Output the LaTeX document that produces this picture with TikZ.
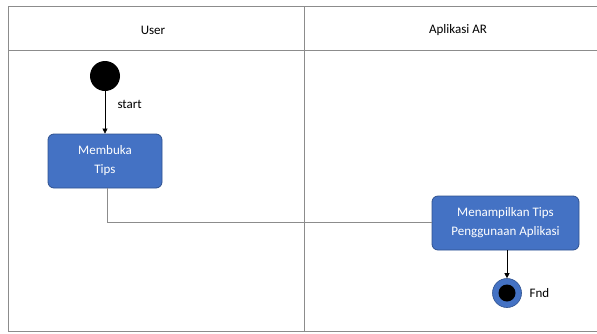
\documentclass[tikz,border=0pt]{standalone}
\usepackage{fontspec}
\setmainfont{Carlito}
\usetikzlibrary{arrows.meta}
\definecolor{boxfill}{HTML}{4472C4}
\definecolor{boxline}{HTML}{2F528F}
\definecolor{frame}{HTML}{8C8C8C}
\tikzset{
  lane/.style={draw=frame, line width=1pt},
  actbox/.style={draw=boxline, fill=boxfill, rounded corners=6pt, line width=0.8pt, text=white, align=center, font=\fontsize{13}{19}\selectfont, inner sep=0pt},
  flow/.style={draw=black, line width=0.6pt, -{Triangle[length=5pt,width=5pt]}},
  plain/.style={draw=frame, line width=0.8pt},
  lbl/.style={font=\fontsize{13}{15}\selectfont, text=black}
}
\begin{document}
\begin{tikzpicture}[x=1pt,y=-1pt]
\useasboundingbox (0,0) rectangle (597,333);
% swimlane frame
\draw[lane] (600,6) -- (8,6) -- (8,331) -- (600,331);
\draw[lane] (8,50) -- (600,50);
\draw[lane] (304,6) -- (304,331);
\node[lbl] (hUser) at (153,30) {User};
\node[lbl] (hApp) at (458,30) {Aplikasi AR};
% start
\node[circle, fill=black, minimum size=30pt, inner sep=0pt] (start) at (105,76) {};
\node[lbl, anchor=west] (startlbl) at (114,104) {start};
% activities
\node[actbox, minimum width=114pt, minimum height=54pt] (buka) at (105,161) {Membuka\\Tips};
\node[actbox, minimum width=147pt, minimum height=54pt] (tampil) at (505.5,223) {Menampilkan Tips\\Penggunaan Aplikasi};
% end
\node[circle, fill=boxfill, draw=boxline, line width=0.6pt, minimum size=29pt, inner sep=0pt] (endo) at (507,293) {};
\node[circle, fill=black, minimum size=17pt, inner sep=0pt] (endi) at (endo) {};
\node[lbl, anchor=west] (endlbl) at (526,293) {Fnd};
% connectors
\draw[flow] (start) -- (buka);
\coordinate (bend) at (107,222);
\draw[plain] (buka.south -| bend) -- (bend) -- (tampil.west |- bend);
\draw[flow] (tampil.south -| endo) -- (endo.north);
\end{tikzpicture}
\end{document}
